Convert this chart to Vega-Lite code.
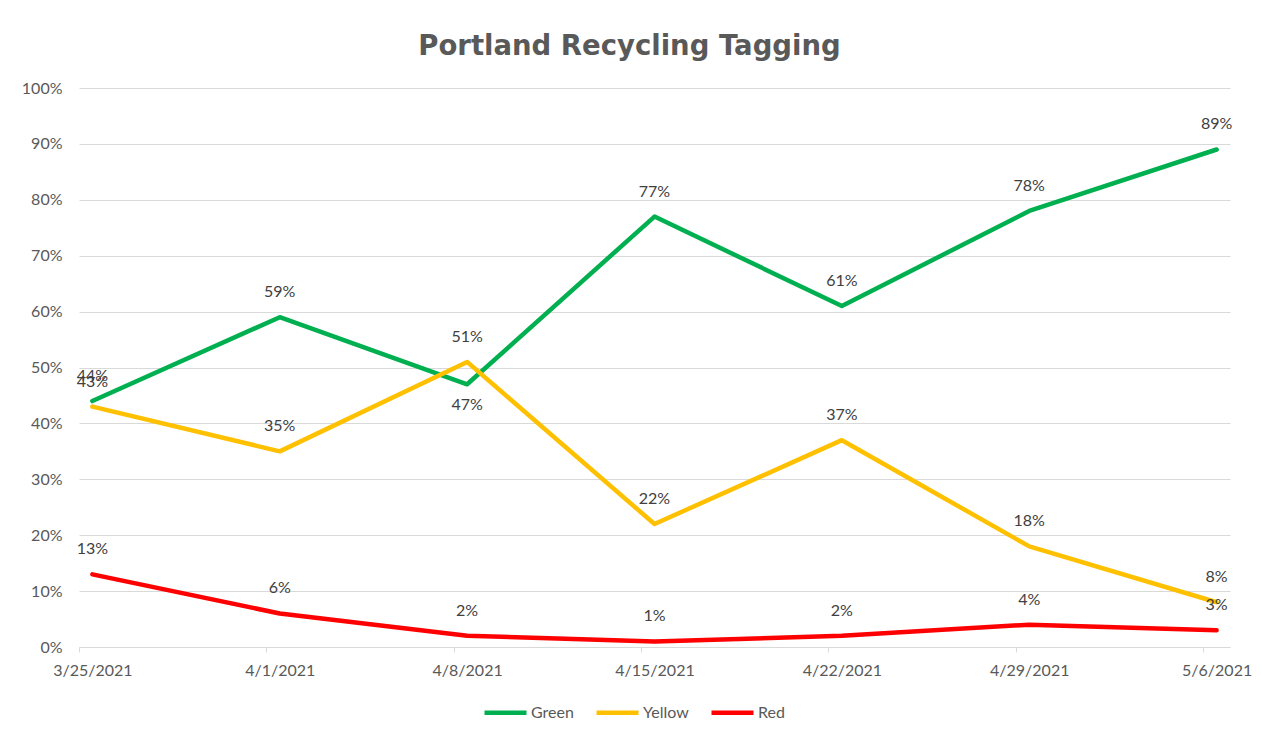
{
  "$schema": "https://vega.github.io/schema/vega-lite/v6.json",
  "width": 1151,
  "height": 559,
  "autosize": {"type": "none"},
  "padding": {"left": 79, "top": 88, "right": 32, "bottom": 90},
  "background": "white",
  "title": {
    "text": "Portland Recycling Tagging",
    "font": "DejaVu Sans",
    "fontSize": 27.5,
    "fontWeight": "bold",
    "color": "#595959",
    "anchor": "middle",
    "dx": -25,
    "offset": 20
  },
  "config": {
    "view": {"stroke": null},
    "font": "Lato"
  },
  "data": {
    "values": [
      {"date": "3/25/2021", "series": "Green", "value": 0.44},
      {"date": "4/1/2021", "series": "Green", "value": 0.59},
      {"date": "4/8/2021", "series": "Green", "value": 0.47},
      {"date": "4/15/2021", "series": "Green", "value": 0.77},
      {"date": "4/22/2021", "series": "Green", "value": 0.61},
      {"date": "4/29/2021", "series": "Green", "value": 0.78},
      {"date": "5/6/2021", "series": "Green", "value": 0.89},
      {"date": "3/25/2021", "series": "Yellow", "value": 0.43},
      {"date": "4/1/2021", "series": "Yellow", "value": 0.35},
      {"date": "4/8/2021", "series": "Yellow", "value": 0.51},
      {"date": "4/15/2021", "series": "Yellow", "value": 0.22},
      {"date": "4/22/2021", "series": "Yellow", "value": 0.37},
      {"date": "4/29/2021", "series": "Yellow", "value": 0.18},
      {"date": "5/6/2021", "series": "Yellow", "value": 0.08},
      {"date": "3/25/2021", "series": "Red", "value": 0.13},
      {"date": "4/1/2021", "series": "Red", "value": 0.06},
      {"date": "4/8/2021", "series": "Red", "value": 0.02},
      {"date": "4/15/2021", "series": "Red", "value": 0.01},
      {"date": "4/22/2021", "series": "Red", "value": 0.02},
      {"date": "4/29/2021", "series": "Red", "value": 0.04},
      {"date": "5/6/2021", "series": "Red", "value": 0.03}
    ]
  },
  "encoding": {
    "x": {
      "field": "date",
      "type": "ordinal",
      "sort": ["3/25/2021", "4/1/2021", "4/8/2021", "4/15/2021", "4/22/2021", "4/29/2021", "5/6/2021"],
      "scale": {"type": "point", "padding": 0.0714},
      "axis": {
        "title": null,
        "labelAngle": 0,
        "labelFont": "Lato",
        "labelFontSize": 16,
        "labelColor": "#595959",
        "domainColor": "#D9D9D9",
        "domainWidth": 1,
        "tickColor": "#D9D9D9",
        "tickSize": 5,
        "tickOffset": -13.4,
        "labelOffset": 13.4,
        "labelPadding": 10,
        "grid": false
      }
    },
    "y": {
      "field": "value",
      "type": "quantitative",
      "scale": {"domain": [0, 1]},
      "axis": {
        "title": null,
        "values": [0, 0.1, 0.2, 0.3, 0.4, 0.5, 0.6, 0.7, 0.8, 0.9, 1],
        "format": ".0%",
        "labelFont": "Lato",
        "labelFontSize": 16,
        "labelColor": "#595959",
        "domain": false,
        "ticks": false,
        "labelPadding": 17,
        "gridColor": "#D9D9D9",
        "gridWidth": 1
      }
    }
  },
  "layer": [
    {
      "mark": {"type": "line", "strokeWidth": 4.5, "strokeCap": "round", "strokeJoin": "round"},
      "encoding": {
        "color": {
          "field": "series",
          "type": "nominal",
          "scale": {"domain": ["Green", "Yellow", "Red"], "range": ["#00B050", "#FFC000", "#FF0000"]},
          "legend": {
            "title": null,
            "orient": "none",
            "direction": "horizontal",
            "legendX": 403,
            "legendY": 601,
            "symbolType": "stroke",
            "symbolSize": 1764,
            "symbolStrokeWidth": 4.5,
            "labelFont": "Lato",
            "labelFontSize": 16,
            "labelColor": "#595959",
            "labelOffset": 2,
            "columnPadding": 13
          }
        }
      }
    },
    {
      "transform": [{"filter": "!(datum.series == 'Green' && datum.date == '4/8/2021')"}],
      "mark": {"type": "text", "dy": -25, "font": "Lato", "fontSize": 16, "color": "#404040", "baseline": "middle"},
      "encoding": {
        "text": {"field": "value", "type": "quantitative", "format": ".0%"}
      }
    },
    {
      "transform": [{"filter": "datum.series == 'Green' && datum.date == '4/8/2021'"}],
      "mark": {"type": "text", "dy": 21, "font": "Lato", "fontSize": 16, "color": "#404040", "baseline": "middle"},
      "encoding": {
        "text": {"field": "value", "type": "quantitative", "format": ".0%"}
      }
    }
  ]
}
